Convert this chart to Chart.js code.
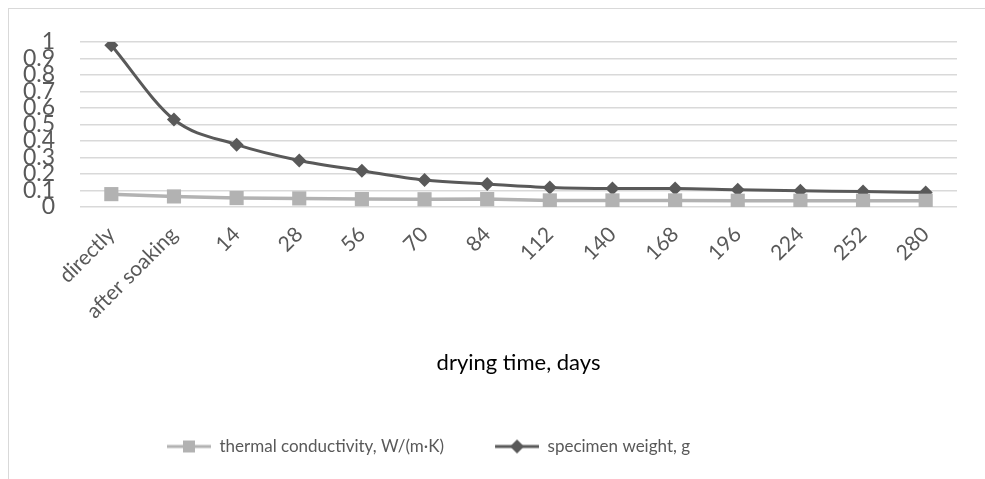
<!DOCTYPE html>
<html>
<head>
<meta charset="utf-8">
<script src="https://cdn.jsdelivr.net/npm/chart.js@4.4.0/dist/chart.umd.min.js"></script>
<style>
  body { margin: 0; background: #fff; }
  #frame { position: absolute; left: 8px; top: 8px; width: 1000px; height: 500px; border: 1.5px solid #d9d9d9; }
  #myChart { position: absolute; left: 0; top: 0; }
</style>
</head>
<body>
<div id="frame"></div>
<canvas id="myChart" width="985" height="479"></canvas>
<script>
// values
var days = ['directly', 'after soaking', '14', '28', '56', '70', '84', '112', '140', '168', '196', '224', '252', '280'];
var conductivity = [0.078, 0.064, 0.054, 0.052, 0.048, 0.047, 0.048, 0.040, 0.040, 0.040, 0.038, 0.038, 0.038, 0.038];
var weight = [0.98, 0.53, 0.378, 0.282, 0.22, 0.163, 0.139, 0.118, 0.112, 0.112, 0.104, 0.098, 0.094, 0.088];
var yTicks = ['0', '0.1', '0.2', '0.3', '0.4', '0.5', '0.6', '0.7', '0.8', '0.9', '1'];

var FONT = "Lato, 'Open Sans', sans-serif";
var lightGray = '#b2b2b2';
var darkGray = '#595959';
var ICON_W = 85;   // legend box: transparent gap on the left, then the line sample
var LINE_W = 44;

// line+marker sample for the legend, like the excel ones
function legendIcon(color, style) {
    var c = document.createElement('canvas');
    c.width = ICON_W;
    c.height = 16;
    var ctx = c.getContext('2d');
    var x0 = ICON_W - LINE_W;
    var mid = x0 + LINE_W / 2;
    ctx.strokeStyle = color;
    ctx.lineWidth = 3;
    ctx.beginPath();
    ctx.moveTo(x0, 8);
    ctx.lineTo(ICON_W, 8);
    ctx.stroke();
    ctx.fillStyle = color;
    if (style == 'rect') {
        ctx.fillRect(mid - 6, 2, 12, 12);
    } else {
        ctx.beginPath();
        ctx.moveTo(mid, 1);
        ctx.lineTo(mid + 7, 8);
        ctx.lineTo(mid, 15);
        ctx.lineTo(mid - 7, 8);
        ctx.closePath();
        ctx.fill();
    }
    return c;
}

// excel puts the legend a bit left of centre
var legendShift = {
    id: 'legendShift',
    afterLayout: function (chart) {
        var lg = chart.legend;
        if (!lg) return;
        lg.left = 0;
        lg.right = 816;
        lg.adjustHitBoxes();
    }
};

const data = {
    labels: days,
    datasets: [{
        label: 'thermal conductivity, W/(m·K)',
        data: conductivity,
        borderColor: lightGray,
        backgroundColor: lightGray,
        borderWidth: 3.5,
        pointStyle: 'rect',
        pointRadius: 10,
        pointBorderWidth: 0,
        tension: 0,
        legendIcon: legendIcon(lightGray, 'rect')
    }, {
        label: 'specimen weight, g',
        data: weight,
        borderColor: darkGray,
        backgroundColor: darkGray,
        borderWidth: 3,
        pointStyle: 'rectRot',
        pointRadius: 7,
        pointBorderWidth: 0,
        cubicInterpolationMode: 'monotone',
        legendIcon: legendIcon(darkGray, 'rectRot')
    }]
};

const config = {
    type: 'line',
    data: data,
    plugins: [legendShift],
    options: {
        responsive: false,
        animation: false,
        layout: {
            padding: { top: 42, right: 28, left: 0, bottom: 14 }
        },
        plugins: {
            tooltip: { enabled: false },
            legend: {
                position: 'bottom',
                labels: {
                    usePointStyle: true,
                    pointStyleWidth: ICON_W,
                    color: darkGray,
                    font: { family: FONT, size: 17 },
                    padding: 10,
                    generateLabels: function (chart) {
                        return chart.data.datasets.map(function (ds, i) {
                            return {
                                text: ds.label,
                                pointStyle: ds.legendIcon,
                                fillStyle: ds.borderColor,
                                strokeStyle: ds.borderColor,
                                fontColor: darkGray,
                                lineWidth: 0,
                                hidden: false,
                                datasetIndex: i
                            };
                        });
                    }
                }
            }
        },
        scales: {
            x: {
                offset: true,
                grid: { display: false, drawTicks: false },
                border: { display: false },
                ticks: {
                    color: darkGray,
                    font: { family: FONT, size: 21 },
                    minRotation: 45,
                    maxRotation: 45,
                    autoSkip: false,
                    padding: 15
                },
                title: {
                    display: true,
                    text: 'drying time, days',
                    color: '#000',
                    font: { family: FONT, size: 22 },
                    padding: { top: 0, bottom: 52 }
                },
                afterFit: function (scale) { scale.height = 221; }
            },
            y: {
                min: 0,
                max: 1,
                grid: { color: '#d9d9d9', lineWidth: 1.5, drawTicks: false },
                border: { display: false },
                ticks: {
                    stepSize: 0.1,
                    autoSkip: false,
                    color: darkGray,
                    font: { family: FONT, size: 23 },
                    padding: 25,
                    callback: function (value, index) { return yTicks[index]; }
                },
                afterFit: function (scale) { scale.width = 80; }
            }
        }
    }
};

var myChart = new Chart(document.getElementById('myChart'), config);
</script>
</body>
</html>
